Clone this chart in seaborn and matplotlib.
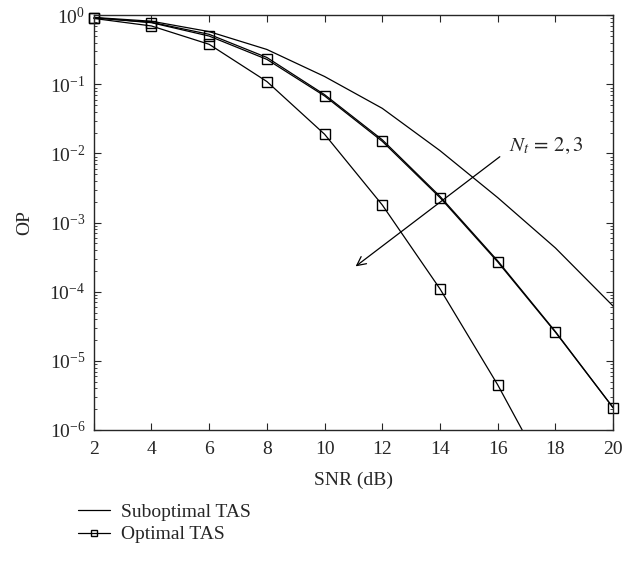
import matplotlib
matplotlib.use("Agg")
import matplotlib.pyplot as plt
import seaborn as sns
import pandas as pd
import numpy as np
from matplotlib.lines import Line2D

# SNR grid (dB)
snr = [2, 4, 6, 8, 10, 12, 14, 16, 18, 20]

# outage probability
sub_nt2 = [0.93, 0.82, 0.58, 0.32, 0.13, 0.045, 0.011, 0.0023, 4.3e-4, 6.2e-5]
sub_nt3 = [0.92, 0.79, 0.53, 0.245, 0.071, 0.0158, 0.0024, 2.8e-4, 2.65e-5, 2.1e-6]
opt_nt2 = [0.92, 0.78, 0.50, 0.23, 0.068, 0.015, 0.0023, 2.7e-4, 2.6e-5, 2.1e-6]
opt_nt3 = [0.90, 0.70, 0.38, 0.11, 0.019, 0.0018, 1.1e-4, 4.5e-6, 1.3e-7, 2.5e-9]

sns.set_style("ticks")
plt.rcParams['font.family'] = ['Liberation Serif', 'DejaVu Serif']
plt.rcParams['mathtext.fontset'] = 'stix'
plt.rcParams['font.size'] = 14

fig = plt.figure(figsize=(6.42, 5.65), dpi=100)
ax = fig.add_axes([0.146, 0.239, 0.809, 0.734])

# suboptimal curves: plain lines
for ys in [sub_nt2, sub_nt3]:
    df = pd.DataFrame({'snr': snr, 'op': ys})
    sns.lineplot(data=df, x='snr', y='op', ax=ax, color='black', lw=0.9)

# optimal curves: lines with open squares
for ys in [opt_nt2, opt_nt3]:
    df = pd.DataFrame({'snr': snr, 'op': ys})
    sns.lineplot(data=df, x='snr', y='op', ax=ax, color='black', lw=0.9,
                 marker='s', markersize=7, markerfacecolor='none',
                 markeredgecolor='black', markeredgewidth=1.0)

# let edge markers overflow the frame like the original
for ln in ax.lines:
    if ln.get_marker() == 's':
        ln.set_clip_on(False)
ax.set_yscale('log')
ax.set_xlim(2, 20)
ax.set_ylim(1e-6, 1)
# cut the steep curve where it leaves through the bottom edge
for ln in ax.lines:
    x, y = ln.get_data()
    keep = np.asarray(y) >= 1e-6
    if not keep.all():
        xs = np.asarray(x, float)
        ys = np.asarray(y, float)
        i = np.argmax(~keep)
        f = (np.log10(ys[i - 1]) + 6) / (np.log10(ys[i - 1]) - np.log10(ys[i]))
        xe = xs[i - 1] + f * (xs[i] - xs[i - 1])
        ln.set_data(np.append(xs[:i], xe), np.append(ys[:i], 1e-6))
        ln.set_markevery(list(range(i)))

ax.set_xticks(snr)
ax.set_yticks([1e-6, 1e-5, 1e-4, 1e-3, 1e-2, 1e-1, 1e0])
ax.tick_params(which='both', direction='in', top=True, right=True)
ax.tick_params(which='major', length=5, labelsize=14, pad=6)
ax.tick_params(axis='x', which='major', pad=8)
ax.tick_params(which='minor', length=2.5)
for s in ax.spines.values():
    s.set_linewidth(1.0)

ax.set_xlabel('SNR (dB)', fontsize=14, labelpad=10)
ax.set_ylabel('OP', fontsize=14, labelpad=12)

# arrow + annotation
ax.annotate('', xy=(11.0, 2.2e-4), xytext=(16.15, 9.5e-3),
            arrowprops=dict(arrowstyle='->', color='black', lw=0.9, mutation_scale=16))
ax.text(16.4, 1.3e-2, r'$N_t\,=\,2, 3$', fontsize=15, ha='left', va='center')

handles = [
    Line2D([0], [0], color='black', lw=0.9, label='Suboptimal TAS'),
    Line2D([0], [0], color='black', lw=0.9, marker='s', markersize=5,
           markerfacecolor='none', markeredgecolor='black', label='Optimal TAS'),
]
fig.legend(handles=handles, loc='upper left', bbox_to_anchor=(0.095, 0.14),
           frameon=False, fontsize=14, handlelength=1.6, handletextpad=0.6,
           labelspacing=0.25)

fig.savefig('out.png', dpi=100)
